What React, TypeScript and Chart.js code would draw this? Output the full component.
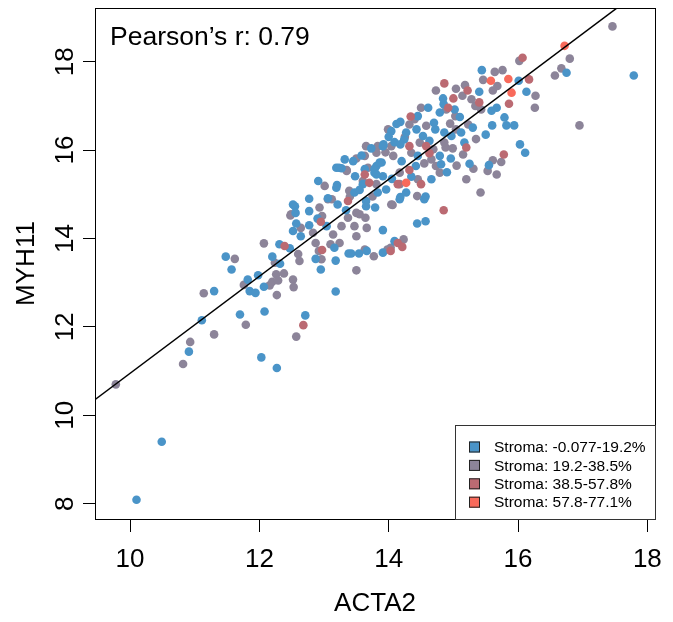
import React, { useEffect, useRef } from 'react';
import { Chart, registerables } from 'chart.js';

Chart.register(...registerables);

// ---- data ----
const SERIES_LABELS = [
  'Stroma: -0.077-19.2%',
  'Stroma: 19.2-38.5%',
  'Stroma: 38.5-57.8%',
  'Stroma: 57.8-77.1%',
];
const SERIES_COLORS = ['#4A94C8', '#8C8499', '#BB6A72', '#F86A5B'];

const BLUE: [number, number][] = [
  [10.10, 8.09], [10.49, 9.40], [10.91, 11.44], [11.11, 12.15], [11.30, 12.81], [11.48, 13.59], [11.57, 13.30],
  [11.70, 12.28], [11.82, 13.07], [11.85, 12.81], [11.94, 12.77], [11.98, 13.17], [12.03, 11.31], [12.08, 12.35],
  [12.07, 12.91], [12.27, 11.07], [12.20, 13.59], [12.32, 13.43], [12.31, 13.87], [12.47, 13.78], [12.71, 12.26],
  [12.52, 14.17], [12.55, 14.73], [12.56, 14.58], [12.57, 14.34], [12.64, 14.05], [12.77, 14.62], [12.77, 14.30],
  [12.87, 13.54], [12.95, 13.30], [13.04, 14.28], [13.16, 13.79], [13.18, 13.50], [13.18, 12.80], [13.38, 13.66],
  [13.54, 13.66], [13.65, 14.73], [13.91, 13.68], [13.91, 14.19], [13.79, 14.70], [13.34, 14.64], [14.57, 14.39],
  [14.44, 14.34], [14.17, 14.89], [14.55, 14.89], [14.09, 13.94], [13.66, 13.72], [13.42, 13.66], [17.79, 17.69],
  [16.75, 17.75], [16.01, 17.57], [16.13, 17.32], [15.44, 17.81], [15.40, 17.32], [14.84, 17.17], [14.85, 17.04],
  [15.67, 16.96], [15.59, 16.89], [15.79, 16.74], [15.82, 16.56], [15.94, 16.56], [15.60, 16.56], [15.30, 16.51],
  [16.03, 16.13], [16.11, 15.94], [15.55, 15.66], [15.25, 15.69], [14.57, 14.95], [14.18, 14.94], [14.42, 15.64],
  [14.79, 15.87], [14.96, 15.81], [15.17, 16.17], [15.12, 16.40], [13.92, 16.13], [14.09, 16.18], [14.24, 16.24],
  [14.63, 16.21], [14.45, 15.87], [13.73, 16.04], [13.58, 15.88], [13.45, 15.75], [13.19, 15.60], [13.27, 15.59],
  [13.20, 15.21], [13.48, 15.41], [13.78, 15.49], [13.81, 15.64], [13.89, 15.72], [13.91, 15.41], [13.83, 15.04],
  [13.96, 15.11], [14.27, 15.04], [14.81, 15.68], [14.66, 15.34], [14.18, 16.13], [14.18, 16.64], [14.12, 16.59],
  [14.45, 16.77], [14.61, 16.96], [14.79, 16.85], [15.02, 16.92], [14.72, 16.47], [14.43, 16.47], [14.27, 16.40],
  [14.04, 16.43], [14.97, 16.32], [14.86, 16.40], [14.53, 16.32], [13.32, 15.79], [13.91, 16.09], [13.86, 15.72],
  [13.78, 15.57], [13.81, 15.45], [13.23, 15.60], [13.63, 15.57], [12.91, 15.30], [13.19, 15.15], [13.47, 15.04],
  [13.60, 15.23], [12.77, 14.90], [13.06, 14.91], [12.52, 14.77], [13.21, 14.77], [13.65, 14.85],
  [14.70, 16.62], [15.10, 16.75], [14.00, 16.30], [14.20, 15.75], [14.90, 15.50], [13.55, 15.10], [14.35, 15.40],
  [15.50, 16.35], [14.05, 15.35], [12.90, 14.45],
];

const GREY: [number, number][] = [
  [9.78, 10.70], [10.82, 11.16], [10.93, 11.66], [11.30, 11.83], [11.14, 12.76], [11.62, 13.54], [11.79, 12.05],
  [11.76, 12.95], [12.07, 13.89], [12.16, 12.94], [12.20, 13.02], [12.26, 13.19], [12.27, 12.72], [12.29, 13.05],
  [12.24, 13.45], [12.38, 13.21], [12.52, 13.07], [12.53, 12.90], [12.57, 11.78], [12.60, 13.65], [12.62, 13.49],
  [12.48, 14.52], [12.64, 14.24], [12.83, 14.13], [12.87, 13.90], [12.93, 14.70], [12.97, 14.51], [12.92, 13.72],
  [12.96, 13.53], [13.06, 14.89], [13.14, 14.09], [13.10, 13.87], [13.24, 13.90], [13.27, 14.28], [13.37, 14.47],
  [13.47, 14.28], [13.50, 14.05], [13.50, 13.28], [13.63, 13.75], [13.66, 14.24], [13.64, 14.47], [13.77, 13.60],
  [13.50, 14.58], [13.98, 13.75], [14.04, 14.77], [14.06, 14.76], [14.23, 13.98], [14.03, 13.79], [17.46, 18.80],
  [16.80, 18.07], [16.57, 17.69], [16.67, 17.85], [16.95, 16.56], [16.02, 18.02], [16.27, 17.23], [16.26, 16.96],
  [15.64, 17.77], [15.76, 17.81], [15.46, 17.59], [15.68, 17.45], [15.61, 17.35], [14.73, 17.35], [15.04, 17.39],
  [15.18, 17.47], [15.14, 17.23], [15.28, 17.15], [15.34, 17.00], [15.43, 16.92], [15.74, 15.73], [15.61, 15.77],
  [15.67, 15.45], [15.53, 15.53], [15.31, 15.58], [15.20, 15.34], [15.42, 15.04], [14.45, 15.34], [14.17, 15.23],
  [14.66, 15.79], [14.88, 16.06], [14.99, 16.04], [15.04, 16.47], [14.07, 15.87], [14.04, 16.09], [14.48, 16.17],
  [14.69, 16.02], [14.35, 15.94], [13.83, 16.09], [13.63, 15.87], [13.50, 15.81], [13.35, 15.53], [13.12, 14.89],
  [13.60, 15.30], [13.81, 15.23], [14.44, 14.96], [14.73, 15.64], [14.79, 15.49], [14.17, 15.49], [14.50, 16.96],
  [14.89, 16.92], [15.03, 16.77], [14.58, 16.55], [14.32, 16.58], [15.23, 16.58], [14.86, 16.17], [13.65, 16.09],
  [13.68, 15.60], [13.99, 16.47], [13.81, 15.94], [13.35, 15.55], [13.01, 15.19], [13.39, 15.08], [12.49, 14.55],
  [13.55, 14.55], [14.40, 16.70], [14.95, 16.60], [14.25, 16.30], [13.95, 15.95], [14.55, 15.70], [15.05, 15.65],
  [13.75, 14.95], [15.35, 16.25], [15.15, 15.90], [13.40, 14.95],
];

const RED: [number, number][] = [
  [12.39, 13.83], [12.68, 12.04], [12.95, 14.38], [12.97, 13.74], [13.37, 14.85], [14.85, 14.64], [14.14, 13.90],
  [14.21, 13.81], [14.03, 13.72], [16.07, 18.09], [16.17, 17.60], [14.86, 17.51], [15.00, 17.17], [15.22, 17.35],
  [15.40, 17.08], [15.86, 17.05], [15.78, 15.90], [14.50, 15.23], [14.32, 15.55], [15.20, 16.06], [14.32, 16.09],
  [14.58, 16.09], [14.63, 15.93], [13.63, 15.45], [13.70, 15.26], [14.14, 15.23], [14.34, 16.76], [14.92, 16.96],
];

const CORAL: [number, number][] = [
  [16.72, 18.36], [15.85, 17.61], [15.58, 17.57], [15.90, 17.30], [14.27, 15.26],
];

// least-squares fit line endpoints (drawn beyond the axes, clipped to the plot)
const FIT_X = [9.0, 19.0];
const FIT_Y = [9.85, 20.83];

const X_TICKS = [10, 12, 14, 16, 18];
const Y_TICKS = [8, 10, 12, 14, 16, 18];
const X_RANGE = [9.458, 18.118];
const Y_RANGE = [7.653, 19.216];

const X_TITLE = 'ACTA2';
const Y_TITLE = 'MYH11';
const ANNOTATION = 'Pearson\u2019s r: 0.79';

const AXIS_FONT = "'Liberation Sans', Arial, sans-serif";
const TEXT_FONT = "'Liberation Sans', Arial, sans-serif";

const toPts = (arr: [number, number][]) => arr.map(([x, y]) => ({ x, y }));

const decorPlugin = {
  id: 'decor',
  afterDraw(chart: any) {
    const { ctx, chartArea: a } = chart;
    ctx.save();
    // full box around plot
    ctx.strokeStyle = '#000';
    ctx.lineWidth = 1;
    ctx.strokeRect(a.left + 0.5, a.top + 0.5, a.right - a.left, a.bottom - a.top);

    // annotation
    ctx.fillStyle = '#000';
    ctx.font = `26.5px ${TEXT_FONT}`;
    ctx.textAlign = 'left';
    ctx.textBaseline = 'alphabetic';
    ctx.fillText(ANNOTATION, a.left + 15, a.top + 37);

    // legend
    const lw = 200;
    const lh = 94;
    const lx = a.right - lw;
    const ly = a.bottom - lh;
    ctx.fillStyle = '#fff';
    ctx.fillRect(lx, ly, lw, lh);
    ctx.strokeStyle = '#333';
    ctx.strokeRect(lx + 0.5, ly + 0.5, lw, lh);
    ctx.font = `15.5px ${TEXT_FONT}`;
    ctx.textBaseline = 'middle';
    SERIES_LABELS.forEach((label, i) => {
      const cy = ly + 22 + i * 18.4;
      ctx.fillStyle = SERIES_COLORS[i];
      ctx.fillRect(lx + 14, cy - 5.5, 11, 11);
      ctx.strokeStyle = '#222';
      ctx.strokeRect(lx + 14.5, cy - 5, 10, 10);
      ctx.fillStyle = '#000';
      ctx.fillText(label, lx + 39, cy + 1);
    });
    ctx.restore();
  },
};

export default function App() {
  const ref = useRef<HTMLCanvasElement | null>(null);

  useEffect(() => {
    if (!ref.current) return;
    const mk = (i: number, data: [number, number][]) => ({
      type: 'scatter' as const,
      label: SERIES_LABELS[i],
      data: toPts(data),
      backgroundColor: SERIES_COLORS[i],
      borderWidth: 0,
      pointRadius: 4.3,
      pointHoverRadius: 4.3,
    });
    const chart = new Chart(ref.current, {
      type: 'scatter',
      data: {
        datasets: [
          {
            type: 'line' as const,
            label: 'fit',
            data: FIT_X.map((x, i) => ({ x, y: FIT_Y[i] })),
            borderColor: '#000',
            borderWidth: 1.5,
            pointRadius: 0,
            fill: false,
          } as any,
          mk(3, CORAL),
          mk(2, RED),
          mk(0, BLUE),
          mk(1, GREY),
        ],
      },
      options: {
        animation: false,
        responsive: false,
        devicePixelRatio: 1,
        layout: { padding: { left: 0, top: 8, right: 18, bottom: 0 } },
        plugins: {
          legend: { display: false },
          tooltip: { enabled: false },
        },
        scales: {
          x: {
            type: 'linear',
            min: X_RANGE[0],
            max: X_RANGE[1],
            afterFit: (s: any) => {
              s.height = 103;
              s.paddingLeft = 0;
              s.paddingRight = 0;
            },
            afterBuildTicks: (s: any) => {
              s.ticks = X_TICKS.map((v) => ({ value: v }));
            },
            ticks: {
              autoSkip: false,
              maxRotation: 0,
              minRotation: 0,
              padding: 12,
              color: '#000',
              font: { family: AXIS_FONT, size: 26 },
            },
            grid: { drawOnChartArea: false, drawTicks: true, tickLength: 13, color: '#000', lineWidth: 1 },
            border: { display: false },
            title: {
              display: true,
              text: X_TITLE,
              color: '#000',
              font: { family: AXIS_FONT, size: 26 },
              padding: { top: 0, bottom: 3 },
            },
          },
          y: {
            type: 'linear',
            min: Y_RANGE[0],
            max: Y_RANGE[1],
            afterFit: (s: any) => {
              s.width = 95;
              s.paddingTop = 0;
              s.paddingBottom = 0;
            },
            afterBuildTicks: (s: any) => {
              s.ticks = Y_TICKS.map((v) => ({ value: v }));
            },
            ticks: {
              autoSkip: false,
              minRotation: 90,
              maxRotation: 90,
              crossAlign: 'center',
              padding: 3,
              color: '#000',
              font: { family: AXIS_FONT, size: 26 },
            },
            grid: { drawOnChartArea: false, drawTicks: true, tickLength: 12, color: '#000', lineWidth: 1 },
            border: { display: false },
            title: {
              display: true,
              text: Y_TITLE,
              color: '#000',
              font: { family: AXIS_FONT, size: 26 },
              padding: { top: 11, bottom: 0 },
            },
          },
        },
      },
      plugins: [decorPlugin],
    });
    return () => chart.destroy();
  }, []);

  return (
    <div style={{ position: 'fixed', left: 0, top: 0, width: 673, height: 622, background: '#fff' }}>
      <canvas ref={ref} width={673} height={622} style={{ display: 'block' }} />
    </div>
  );
}
